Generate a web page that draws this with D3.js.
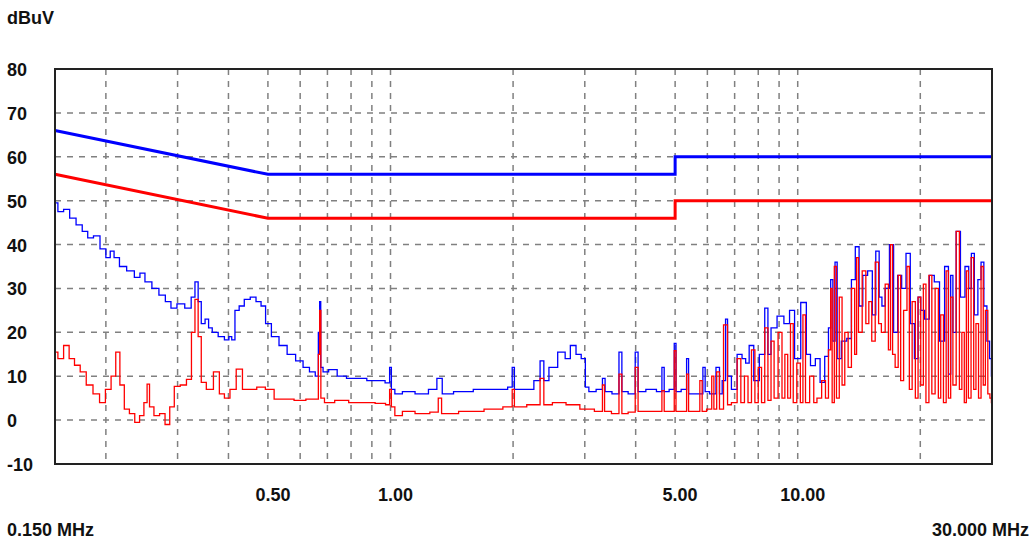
<!DOCTYPE html>
<html>
<head>
<meta charset="utf-8">
<script src="https://cdn.jsdelivr.net/npm/d3@7"></script>
<style>
  body { margin: 0; background: #fff; }
  text { font-family: "Liberation Sans", Arial, sans-serif; font-weight: bold; fill: #111; }
</style>
</head>
<body>
<svg id="chart" width="1033" height="541"></svg>
<script>
// limit lines [MHz, dBuV]
const qpLimit = [[0.15, 66], [0.5, 56], [5, 56], [5, 60], [30, 60]];
const avLimit = [[0.15, 56], [0.5, 46], [5, 46], [5, 50], [30, 50]];

const yTicks = [80, 70, 60, 50, 40, 30, 20, 10, 0, -10];
const xGrid = [0.2, 0.3, 0.4, 0.5, 0.6, 0.7, 0.8, 0.9, 1, 2, 3, 4, 5, 6, 7, 8, 9, 10, 20];
const xLabels = [[0.5, "0.50"], [1, "1.00"], [5, "5.00"], [10, "10.00"]];

// peak trace (blue)
const peak = [[0.150,49.5],[0.155,47.5],[0.160,48],[0.166,46],[0.172,44.5],[0.178,43],[0.183,41.5],[0.19,42],[0.197,39],[0.203,37],[0.207,38.5],[0.212,37],[0.22,35],[0.23,34],[0.24,32.5],[0.245,33.5],[0.254,31.5],[0.265,30],[0.275,28.5],[0.285,27],[0.293,25.5],[0.305,26.5],[0.32,25.5],[0.328,28],[0.334,31.5],[0.34,27],[0.346,22],[0.355,23],[0.36,21],[0.37,20],[0.385,19],[0.397,18.3],[0.405,19],[0.41,18.3],[0.42,25],[0.43,26],[0.445,27.5],[0.46,28],[0.475,27],[0.487,26],[0.5,22],[0.52,19],[0.545,17],[0.57,15],[0.6,13.5],[0.62,12],[0.645,11],[0.662,10],[0.668,20],[0.672,27],[0.676,12],[0.69,11],[0.72,11.5],[0.76,10],[0.8,9.5],[0.85,9.5],[0.9,9],[0.95,9],[0.99,8.5],[1.0,12],[1.01,7],[1.04,6],[1.1,6.5],[1.2,6],[1.28,7],[1.32,9.5],[1.36,6],[1.5,6.5],[1.7,7],[1.9,7],[1.98,7.5],[2.0,12],[2.03,7],[2.2,7],[2.3,9],[2.36,13.5],[2.4,9],[2.5,12],[2.65,15.5],[2.72,14],[2.81,17],[2.9,15],[2.98,14],[3.04,7.5],[3.1,6.5],[3.3,7],[3.33,9.5],[3.4,6.5],[3.6,6],[3.68,15.5],[3.72,6.5],[3.95,6],[4.03,15.5],[4.08,6.5],[4.4,7],[4.6,6.5],[4.68,12],[4.72,6.5],[4.95,7],[5.0,17.5],[5.05,6.5],[5.3,7],[5.37,14],[5.42,6],[5.8,6],[5.9,12],[5.95,6.5],[6.2,6],[6.4,12],[6.45,6],[6.6,9],[6.7,23],[6.75,10],[7.0,7],[7.2,15],[7.4,14],[7.5,13],[7.7,17],[7.9,9],[8.2,15],[8.4,25.5],[8.5,15],[8.7,21],[9.1,23.7],[9.4,22],[9.7,25],[9.95,14],[10.4,26.8],[10.6,15],[10.9,12.4],[11.2,14],[11.5,8.6],[11.8,14.5],[12.0,21],[12.1,32],[12.3,18],[12.4,36],[12.6,14],[13.0,18],[13.4,18.6],[13.7,32],[14.0,39.5],[14.3,26],[14.6,33],[15.1,34],[15.4,24],[15.7,38.5],[16.0,28],[16.2,26],[16.6,30],[17.0,40],[17.4,20],[17.8,33],[18.2,30],[18.7,38],[19.1,22],[19.6,14],[19.9,28],[20.2,25],[20.8,23],[21.3,33],[22.0,31.5],[22.6,18],[23.3,35],[23.6,10.5],[23.9,33],[24.2,20],[24.8,43],[25.4,28],[26.1,35],[26.5,30],[26.9,38],[27.4,24],[28.0,32],[28.4,36],[28.9,26],[29.4,18],[29.8,14],[30,10]];

// average trace (red)
const average = [[0.150,15.5],[0.155,14],[0.160,17],[0.165,14],[0.170,12.5],[0.176,11],[0.182,8],[0.19,6],[0.196,4],[0.203,7],[0.209,10],[0.214,15.5],[0.219,8],[0.225,2.5],[0.232,1.5],[0.239,-0.5],[0.245,1],[0.251,4],[0.254,8.2],[0.258,3],[0.267,1],[0.275,1.5],[0.284,-1],[0.29,3],[0.299,7.7],[0.31,8],[0.321,9.3],[0.328,20],[0.334,27.5],[0.34,19],[0.346,8.6],[0.36,7],[0.375,11],[0.385,6],[0.397,5],[0.41,7],[0.426,11.6],[0.44,7],[0.459,7],[0.48,7.5],[0.506,7],[0.53,4.8],[0.56,4.8],[0.6,4.5],[0.64,4.8],[0.662,4.8],[0.668,15],[0.672,25],[0.677,5],[0.7,4],[0.76,4.5],[0.82,4],[0.88,4],[0.955,3.8],[0.99,3.5],[1.0,7],[1.01,3],[1.04,1],[1.1,2],[1.2,1.5],[1.3,1.8],[1.32,5],[1.35,1.5],[1.6,2],[1.8,2.5],[1.98,3],[2.0,7],[2.03,3],[2.3,3.5],[2.36,9.5],[2.4,3.5],[2.6,4],[2.8,3.5],[3.04,2.5],[3.3,2],[3.33,8],[3.38,2],[3.6,1.5],[3.68,10.5],[3.72,1.5],[3.95,1.8],[4.03,12],[4.08,2],[4.6,2],[4.68,6.7],[4.72,2],[4.95,2],[5.0,15.8],[5.05,2],[5.3,2],[5.37,10.5],[5.42,2],[5.7,2],[5.8,9],[5.85,2],[6.1,2.5],[6.2,10],[6.25,2.5],[6.4,11],[6.45,2.5],[6.7,21.7],[6.75,3.5],[7.0,4],[7.2,14],[7.3,4],[7.5,10],[7.6,4],[7.8,16],[7.9,4],[8.1,12],[8.2,4],[8.4,21],[8.5,4.5],[8.7,18],[8.8,5],[9.1,20],[9.2,5],[9.4,15],[9.5,5],[9.7,22],[9.8,4],[10.1,13],[10.2,4],[10.4,24],[10.5,4],[10.9,10],[11.0,4],[11.3,5],[11.6,9],[11.8,5],[12.0,16],[12.1,30],[12.2,4],[12.4,35],[12.5,5],[12.8,28],[12.9,8],[13.2,20],[13.4,12],[13.7,30],[13.9,15],[14.0,37],[14.2,20],[14.6,34],[14.8,22],[15.1,27],[15.3,18],[15.7,36],[15.9,22],[16.2,20],[16.6,31],[16.8,16],[17.0,40],[17.2,15],[17.5,12],[17.8,33],[18.0,9],[18.4,25],[18.7,35],[18.9,7],[19.3,27],[19.6,5],[19.9,28],[20.2,8],[20.5,31],[20.8,4],[21.2,33],[21.5,6],[22.0,30],[22.3,5],[22.6,24],[23.0,4],[23.3,34],[23.6,5],[23.9,28],[24.2,8],[24.8,43],[25.1,7],[25.5,20],[25.8,4],[26.1,34],[26.4,5],[26.9,37],[27.2,7],[27.6,22],[28.0,5],[28.4,35],[28.7,8],[29.1,25],[29.5,6],[29.8,5],[30,4]];

const svg = d3.select('#chart');
const m = {left: 55, right: 992, top: 69, bottom: 464};

const x = d3.scaleLog().domain([0.15, 30]).range([m.left, m.right]);
const y = d3.scaleLinear().domain([-10, 80]).range([m.bottom, m.top]);

// grid
svg.selectAll('.vgrid').data(xGrid).join('line')
    .attr('x1', d => x(d)).attr('x2', d => x(d))
    .attr('y1', m.top).attr('y2', m.bottom)
    .attr('stroke', '#808080').attr('stroke-width', 1.5)
    .attr('stroke-dasharray', '6,6');
svg.selectAll('.hgrid').data(yTicks.filter(d => d > -10 && d < 80)).join('line')
    .attr('x1', m.left).attr('x2', m.right)
    .attr('y1', d => y(d)).attr('y2', d => y(d))
    .attr('stroke', '#808080').attr('stroke-width', 1.5)
    .attr('stroke-dasharray', '6,6');

const line = d3.line().x(d => x(d[0])).y(d => y(d[1]));
const trace = d3.line().x(d => x(d[0])).y(d => y(d[1])).curve(d3.curveStep);

svg.append('path').attr('d', trace(peak))
    .attr('fill', 'none').attr('stroke', '#0000ff').attr('stroke-width', 1.3);
svg.append('path').attr('d', trace(average))
    .attr('fill', 'none').attr('stroke', '#ff0000').attr('stroke-width', 1.3);

svg.append('path').attr('d', line(qpLimit))
    .attr('fill', 'none').attr('stroke', '#0000ff').attr('stroke-width', 3);
svg.append('path').attr('d', line(avLimit))
    .attr('fill', 'none').attr('stroke', '#ff0000').attr('stroke-width', 3);

// frame
svg.append('rect')
    .attr('x', m.left).attr('y', m.top)
    .attr('width', m.right - m.left).attr('height', m.bottom - m.top)
    .attr('fill', 'none').attr('stroke', '#222').attr('stroke-width', 2);

// labels
svg.selectAll('.ylab').data(yTicks).join('text')
    .attr('x', 7).attr('y', d => y(d) + 7)
    .attr('font-size', 18)
    .text(d => d);

svg.selectAll('.xlab').data(xLabels).join('text')
    .attr('x', d => x(d[0]) + 5).attr('y', 501)
    .attr('text-anchor', 'middle')
    .attr('font-size', 18)
    .text(d => d[1]);

svg.append('text').attr('x', 7).attr('y', 24).attr('font-size', 18).text('dBuV');
svg.append('text').attr('x', 7).attr('y', 536).attr('font-size', 18).text('0.150 MHz');
svg.append('text').attr('x', 1029).attr('y', 536).attr('text-anchor', 'end')
    .attr('font-size', 18).text('30.000 MHz');
</script>
</body>
</html>
